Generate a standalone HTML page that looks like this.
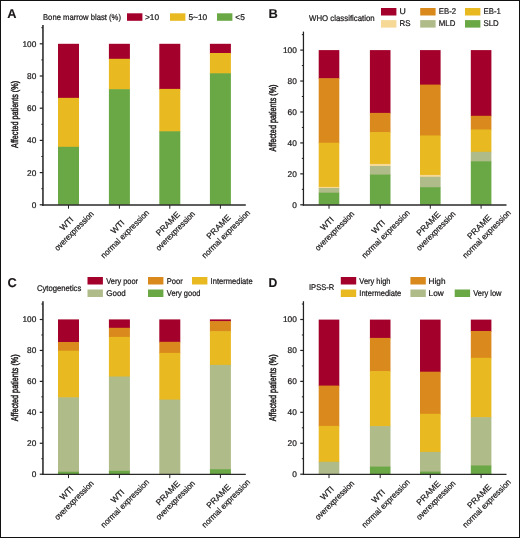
<!DOCTYPE html>
<html><head><meta charset="utf-8"><style>
html,body{margin:0;padding:0;background:#fff;}
body{width:520px;height:538px;overflow:hidden;}
svg{display:block;will-change:transform;font-family:"Liberation Sans", sans-serif;text-rendering:geometricPrecision;}
</style></head><body>
<svg width="520" height="538" viewBox="0 0 520 538">
<rect x="0" y="0" width="520" height="538" fill="#fff"/>
<g fill="#1a1718">
<rect x="58.00" y="43.80" width="21.00" height="54.65" fill="#a3002c"/>
<rect x="58.00" y="97.85" width="21.00" height="49.55" fill="#e8b921"/>
<rect x="58.00" y="146.80" width="21.00" height="58.00" fill="#6aa845"/>
<rect x="108.90" y="43.80" width="21.00" height="15.60" fill="#a3002c"/>
<rect x="108.90" y="58.80" width="21.00" height="31.00" fill="#e8b921"/>
<rect x="108.90" y="89.20" width="21.00" height="115.60" fill="#6aa845"/>
<rect x="159.30" y="43.80" width="21.00" height="45.70" fill="#a3002c"/>
<rect x="159.30" y="88.90" width="21.00" height="43.00" fill="#e8b921"/>
<rect x="159.30" y="131.30" width="21.00" height="73.50" fill="#6aa845"/>
<rect x="209.90" y="43.80" width="21.00" height="9.80" fill="#a3002c"/>
<rect x="209.90" y="53.00" width="21.00" height="20.90" fill="#e8b921"/>
<rect x="209.90" y="73.30" width="21.00" height="131.50" fill="#6aa845"/>
<line x1="42.95" y1="25.00" x2="42.95" y2="205.70" stroke="#3c3c3c" stroke-width="1.7"/>
<line x1="42.10" y1="205.00" x2="245.80" y2="205.00" stroke="#2a2a2a" stroke-width="1.4"/>
<line x1="39.75" y1="204.80" x2="42.95" y2="204.80" stroke="#222" stroke-width="1.2"/>
<text transform="translate(36.35,207.70)" font-size="8.3" text-anchor="end" font-weight="normal" stroke="#1a1718" stroke-width="0.22">0</text>
<line x1="41.35" y1="188.70" x2="42.95" y2="188.70" stroke="#222" stroke-width="1.0"/>
<line x1="39.75" y1="172.60" x2="42.95" y2="172.60" stroke="#222" stroke-width="1.2"/>
<text transform="translate(36.35,175.50)" font-size="8.3" text-anchor="end" font-weight="normal" stroke="#1a1718" stroke-width="0.22">20</text>
<line x1="41.35" y1="156.50" x2="42.95" y2="156.50" stroke="#222" stroke-width="1.0"/>
<line x1="39.75" y1="140.40" x2="42.95" y2="140.40" stroke="#222" stroke-width="1.2"/>
<text transform="translate(36.35,143.30)" font-size="8.3" text-anchor="end" font-weight="normal" stroke="#1a1718" stroke-width="0.22">40</text>
<line x1="41.35" y1="124.30" x2="42.95" y2="124.30" stroke="#222" stroke-width="1.0"/>
<line x1="39.75" y1="108.20" x2="42.95" y2="108.20" stroke="#222" stroke-width="1.2"/>
<text transform="translate(36.35,111.10)" font-size="8.3" text-anchor="end" font-weight="normal" stroke="#1a1718" stroke-width="0.22">60</text>
<line x1="41.35" y1="92.10" x2="42.95" y2="92.10" stroke="#222" stroke-width="1.0"/>
<line x1="39.75" y1="76.00" x2="42.95" y2="76.00" stroke="#222" stroke-width="1.2"/>
<text transform="translate(36.35,78.90)" font-size="8.3" text-anchor="end" font-weight="normal" stroke="#1a1718" stroke-width="0.22">80</text>
<line x1="41.35" y1="59.90" x2="42.95" y2="59.90" stroke="#222" stroke-width="1.0"/>
<line x1="39.75" y1="43.80" x2="42.95" y2="43.80" stroke="#222" stroke-width="1.2"/>
<text transform="translate(36.35,46.70)" font-size="8.3" text-anchor="end" font-weight="normal" stroke="#1a1718" stroke-width="0.22">100</text>
<line x1="41.35" y1="27.70" x2="42.95" y2="27.70" stroke="#222" stroke-width="1.0"/>
<line x1="68.50" y1="205.00" x2="68.50" y2="208.70" stroke="#222" stroke-width="1.0"/>
<line x1="119.40" y1="205.00" x2="119.40" y2="208.70" stroke="#222" stroke-width="1.0"/>
<line x1="169.80" y1="205.00" x2="169.80" y2="208.70" stroke="#222" stroke-width="1.0"/>
<line x1="220.40" y1="205.00" x2="220.40" y2="208.70" stroke="#222" stroke-width="1.0"/>
<rect x="318.70" y="50.10" width="20.60" height="28.70" fill="#a3002c"/>
<rect x="318.70" y="78.20" width="20.60" height="65.15" fill="#da8a1c"/>
<rect x="318.70" y="142.75" width="20.60" height="44.75" fill="#e8b921"/>
<rect x="318.70" y="186.90" width="20.60" height="1.70" fill="#f6d996"/>
<rect x="318.70" y="188.00" width="20.60" height="5.30" fill="#afbb89"/>
<rect x="318.70" y="192.70" width="20.60" height="12.10" fill="#6aa845"/>
<rect x="369.90" y="50.10" width="20.60" height="63.40" fill="#a3002c"/>
<rect x="369.90" y="112.90" width="20.60" height="19.80" fill="#da8a1c"/>
<rect x="369.90" y="132.10" width="20.60" height="32.40" fill="#e8b921"/>
<rect x="369.90" y="163.90" width="20.60" height="2.70" fill="#f6d996"/>
<rect x="369.90" y="166.00" width="20.60" height="9.20" fill="#afbb89"/>
<rect x="369.90" y="174.60" width="20.60" height="30.20" fill="#6aa845"/>
<rect x="420.00" y="50.10" width="20.60" height="35.10" fill="#a3002c"/>
<rect x="420.00" y="84.60" width="20.60" height="51.50" fill="#da8a1c"/>
<rect x="420.00" y="135.50" width="20.60" height="40.00" fill="#e8b921"/>
<rect x="420.00" y="174.90" width="20.60" height="2.50" fill="#f6d996"/>
<rect x="420.00" y="176.80" width="20.60" height="11.00" fill="#afbb89"/>
<rect x="420.00" y="187.20" width="20.60" height="17.60" fill="#6aa845"/>
<rect x="470.80" y="50.10" width="20.60" height="66.30" fill="#a3002c"/>
<rect x="470.80" y="115.80" width="20.60" height="14.30" fill="#da8a1c"/>
<rect x="470.80" y="129.50" width="20.60" height="22.90" fill="#e8b921"/>
<rect x="470.80" y="151.80" width="20.60" height="10.10" fill="#afbb89"/>
<rect x="470.80" y="161.30" width="20.60" height="43.50" fill="#6aa845"/>
<line x1="303.45" y1="31.60" x2="303.45" y2="205.70" stroke="#222" stroke-width="1.25"/>
<line x1="302.82" y1="205.00" x2="506.50" y2="205.00" stroke="#2a2a2a" stroke-width="1.4"/>
<line x1="300.25" y1="204.80" x2="303.45" y2="204.80" stroke="#222" stroke-width="1.2"/>
<text transform="translate(296.85,207.70)" font-size="8.3" text-anchor="end" font-weight="normal" stroke="#1a1718" stroke-width="0.22">0</text>
<line x1="301.85" y1="189.33" x2="303.45" y2="189.33" stroke="#222" stroke-width="1.0"/>
<line x1="300.25" y1="173.86" x2="303.45" y2="173.86" stroke="#222" stroke-width="1.2"/>
<text transform="translate(296.85,176.76)" font-size="8.3" text-anchor="end" font-weight="normal" stroke="#1a1718" stroke-width="0.22">20</text>
<line x1="301.85" y1="158.39" x2="303.45" y2="158.39" stroke="#222" stroke-width="1.0"/>
<line x1="300.25" y1="142.92" x2="303.45" y2="142.92" stroke="#222" stroke-width="1.2"/>
<text transform="translate(296.85,145.82)" font-size="8.3" text-anchor="end" font-weight="normal" stroke="#1a1718" stroke-width="0.22">40</text>
<line x1="301.85" y1="127.45" x2="303.45" y2="127.45" stroke="#222" stroke-width="1.0"/>
<line x1="300.25" y1="111.98" x2="303.45" y2="111.98" stroke="#222" stroke-width="1.2"/>
<text transform="translate(296.85,114.88)" font-size="8.3" text-anchor="end" font-weight="normal" stroke="#1a1718" stroke-width="0.22">60</text>
<line x1="301.85" y1="96.51" x2="303.45" y2="96.51" stroke="#222" stroke-width="1.0"/>
<line x1="300.25" y1="81.04" x2="303.45" y2="81.04" stroke="#222" stroke-width="1.2"/>
<text transform="translate(296.85,83.94)" font-size="8.3" text-anchor="end" font-weight="normal" stroke="#1a1718" stroke-width="0.22">80</text>
<line x1="301.85" y1="65.57" x2="303.45" y2="65.57" stroke="#222" stroke-width="1.0"/>
<line x1="300.25" y1="50.10" x2="303.45" y2="50.10" stroke="#222" stroke-width="1.2"/>
<text transform="translate(296.85,53.00)" font-size="8.3" text-anchor="end" font-weight="normal" stroke="#1a1718" stroke-width="0.22">100</text>
<line x1="301.85" y1="34.63" x2="303.45" y2="34.63" stroke="#222" stroke-width="1.0"/>
<line x1="329.00" y1="205.00" x2="329.00" y2="208.70" stroke="#222" stroke-width="1.0"/>
<line x1="380.20" y1="205.00" x2="380.20" y2="208.70" stroke="#222" stroke-width="1.0"/>
<line x1="430.30" y1="205.00" x2="430.30" y2="208.70" stroke="#222" stroke-width="1.0"/>
<line x1="481.10" y1="205.00" x2="481.10" y2="208.70" stroke="#222" stroke-width="1.0"/>
<rect x="58.00" y="319.40" width="21.00" height="23.20" fill="#a3002c"/>
<rect x="58.00" y="342.00" width="21.00" height="9.30" fill="#da8a1c"/>
<rect x="58.00" y="350.70" width="21.00" height="47.20" fill="#e8b921"/>
<rect x="58.00" y="397.30" width="21.00" height="75.00" fill="#afbb89"/>
<rect x="58.00" y="471.70" width="21.00" height="2.50" fill="#6aa845"/>
<rect x="108.90" y="319.40" width="21.00" height="9.00" fill="#a3002c"/>
<rect x="108.90" y="327.80" width="21.00" height="9.70" fill="#da8a1c"/>
<rect x="108.90" y="336.90" width="21.00" height="40.20" fill="#e8b921"/>
<rect x="108.90" y="376.50" width="21.00" height="94.90" fill="#afbb89"/>
<rect x="108.90" y="470.80" width="21.00" height="3.40" fill="#6aa845"/>
<rect x="159.30" y="319.40" width="21.00" height="23.00" fill="#a3002c"/>
<rect x="159.30" y="341.80" width="21.00" height="11.70" fill="#da8a1c"/>
<rect x="159.30" y="352.90" width="21.00" height="47.30" fill="#e8b921"/>
<rect x="159.30" y="399.60" width="21.00" height="74.60" fill="#afbb89"/>
<rect x="209.90" y="319.40" width="21.00" height="2.30" fill="#a3002c"/>
<rect x="209.90" y="321.10" width="21.00" height="10.70" fill="#da8a1c"/>
<rect x="209.90" y="331.20" width="21.00" height="34.30" fill="#e8b921"/>
<rect x="209.90" y="364.90" width="21.00" height="104.90" fill="#afbb89"/>
<rect x="209.90" y="469.20" width="21.00" height="5.00" fill="#6aa845"/>
<line x1="42.95" y1="301.20" x2="42.95" y2="475.05" stroke="#3c3c3c" stroke-width="1.7"/>
<line x1="42.10" y1="474.40" x2="245.80" y2="474.40" stroke="#2a2a2a" stroke-width="1.3"/>
<line x1="39.75" y1="474.20" x2="42.95" y2="474.20" stroke="#222" stroke-width="1.2"/>
<text transform="translate(36.35,477.10)" font-size="8.3" text-anchor="end" font-weight="normal" stroke="#1a1718" stroke-width="0.22">0</text>
<line x1="41.35" y1="458.73" x2="42.95" y2="458.73" stroke="#222" stroke-width="1.0"/>
<line x1="39.75" y1="443.26" x2="42.95" y2="443.26" stroke="#222" stroke-width="1.2"/>
<text transform="translate(36.35,446.16)" font-size="8.3" text-anchor="end" font-weight="normal" stroke="#1a1718" stroke-width="0.22">20</text>
<line x1="41.35" y1="427.79" x2="42.95" y2="427.79" stroke="#222" stroke-width="1.0"/>
<line x1="39.75" y1="412.32" x2="42.95" y2="412.32" stroke="#222" stroke-width="1.2"/>
<text transform="translate(36.35,415.22)" font-size="8.3" text-anchor="end" font-weight="normal" stroke="#1a1718" stroke-width="0.22">40</text>
<line x1="41.35" y1="396.85" x2="42.95" y2="396.85" stroke="#222" stroke-width="1.0"/>
<line x1="39.75" y1="381.38" x2="42.95" y2="381.38" stroke="#222" stroke-width="1.2"/>
<text transform="translate(36.35,384.28)" font-size="8.3" text-anchor="end" font-weight="normal" stroke="#1a1718" stroke-width="0.22">60</text>
<line x1="41.35" y1="365.91" x2="42.95" y2="365.91" stroke="#222" stroke-width="1.0"/>
<line x1="39.75" y1="350.44" x2="42.95" y2="350.44" stroke="#222" stroke-width="1.2"/>
<text transform="translate(36.35,353.34)" font-size="8.3" text-anchor="end" font-weight="normal" stroke="#1a1718" stroke-width="0.22">80</text>
<line x1="41.35" y1="334.97" x2="42.95" y2="334.97" stroke="#222" stroke-width="1.0"/>
<line x1="39.75" y1="319.50" x2="42.95" y2="319.50" stroke="#222" stroke-width="1.2"/>
<text transform="translate(36.35,322.40)" font-size="8.3" text-anchor="end" font-weight="normal" stroke="#1a1718" stroke-width="0.22">100</text>
<line x1="41.35" y1="304.03" x2="42.95" y2="304.03" stroke="#222" stroke-width="1.0"/>
<line x1="68.50" y1="474.40" x2="68.50" y2="478.10" stroke="#222" stroke-width="1.0"/>
<line x1="119.40" y1="474.40" x2="119.40" y2="478.10" stroke="#222" stroke-width="1.0"/>
<line x1="169.80" y1="474.40" x2="169.80" y2="478.10" stroke="#222" stroke-width="1.0"/>
<line x1="220.40" y1="474.40" x2="220.40" y2="478.10" stroke="#222" stroke-width="1.0"/>
<rect x="318.70" y="319.60" width="20.60" height="66.60" fill="#a3002c"/>
<rect x="318.70" y="385.60" width="20.60" height="40.90" fill="#da8a1c"/>
<rect x="318.70" y="425.90" width="20.60" height="36.50" fill="#e8b921"/>
<rect x="318.70" y="461.80" width="20.60" height="12.40" fill="#afbb89"/>
<rect x="369.90" y="319.60" width="20.60" height="18.90" fill="#a3002c"/>
<rect x="369.90" y="337.90" width="20.60" height="33.80" fill="#da8a1c"/>
<rect x="369.90" y="371.10" width="20.60" height="55.60" fill="#e8b921"/>
<rect x="369.90" y="426.10" width="20.60" height="41.10" fill="#afbb89"/>
<rect x="369.90" y="466.60" width="20.60" height="7.60" fill="#6aa845"/>
<rect x="420.00" y="319.60" width="20.60" height="52.70" fill="#a3002c"/>
<rect x="420.00" y="371.70" width="20.60" height="42.70" fill="#da8a1c"/>
<rect x="420.00" y="413.80" width="20.60" height="38.70" fill="#e8b921"/>
<rect x="420.00" y="451.90" width="20.60" height="20.30" fill="#afbb89"/>
<rect x="420.00" y="471.60" width="20.60" height="2.60" fill="#6aa845"/>
<rect x="470.80" y="319.60" width="20.60" height="12.00" fill="#a3002c"/>
<rect x="470.80" y="331.00" width="20.60" height="27.40" fill="#da8a1c"/>
<rect x="470.80" y="357.80" width="20.60" height="60.00" fill="#e8b921"/>
<rect x="470.80" y="417.20" width="20.60" height="48.90" fill="#afbb89"/>
<rect x="470.80" y="465.50" width="20.60" height="8.70" fill="#6aa845"/>
<line x1="303.45" y1="301.20" x2="303.45" y2="475.05" stroke="#222" stroke-width="1.25"/>
<line x1="302.82" y1="474.40" x2="506.50" y2="474.40" stroke="#2a2a2a" stroke-width="1.3"/>
<line x1="300.25" y1="474.20" x2="303.45" y2="474.20" stroke="#222" stroke-width="1.2"/>
<text transform="translate(296.85,477.10)" font-size="8.3" text-anchor="end" font-weight="normal" stroke="#1a1718" stroke-width="0.22">0</text>
<line x1="301.85" y1="458.73" x2="303.45" y2="458.73" stroke="#222" stroke-width="1.0"/>
<line x1="300.25" y1="443.26" x2="303.45" y2="443.26" stroke="#222" stroke-width="1.2"/>
<text transform="translate(296.85,446.16)" font-size="8.3" text-anchor="end" font-weight="normal" stroke="#1a1718" stroke-width="0.22">20</text>
<line x1="301.85" y1="427.79" x2="303.45" y2="427.79" stroke="#222" stroke-width="1.0"/>
<line x1="300.25" y1="412.32" x2="303.45" y2="412.32" stroke="#222" stroke-width="1.2"/>
<text transform="translate(296.85,415.22)" font-size="8.3" text-anchor="end" font-weight="normal" stroke="#1a1718" stroke-width="0.22">40</text>
<line x1="301.85" y1="396.85" x2="303.45" y2="396.85" stroke="#222" stroke-width="1.0"/>
<line x1="300.25" y1="381.38" x2="303.45" y2="381.38" stroke="#222" stroke-width="1.2"/>
<text transform="translate(296.85,384.28)" font-size="8.3" text-anchor="end" font-weight="normal" stroke="#1a1718" stroke-width="0.22">60</text>
<line x1="301.85" y1="365.91" x2="303.45" y2="365.91" stroke="#222" stroke-width="1.0"/>
<line x1="300.25" y1="350.44" x2="303.45" y2="350.44" stroke="#222" stroke-width="1.2"/>
<text transform="translate(296.85,353.34)" font-size="8.3" text-anchor="end" font-weight="normal" stroke="#1a1718" stroke-width="0.22">80</text>
<line x1="301.85" y1="334.97" x2="303.45" y2="334.97" stroke="#222" stroke-width="1.0"/>
<line x1="300.25" y1="319.50" x2="303.45" y2="319.50" stroke="#222" stroke-width="1.2"/>
<text transform="translate(296.85,322.40)" font-size="8.3" text-anchor="end" font-weight="normal" stroke="#1a1718" stroke-width="0.22">100</text>
<line x1="301.85" y1="304.03" x2="303.45" y2="304.03" stroke="#222" stroke-width="1.0"/>
<line x1="329.00" y1="474.40" x2="329.00" y2="478.10" stroke="#222" stroke-width="1.0"/>
<line x1="380.20" y1="474.40" x2="380.20" y2="478.10" stroke="#222" stroke-width="1.0"/>
<line x1="430.30" y1="474.40" x2="430.30" y2="478.10" stroke="#222" stroke-width="1.0"/>
<line x1="481.10" y1="474.40" x2="481.10" y2="478.10" stroke="#222" stroke-width="1.0"/>
<text transform="translate(7.20,17.80)" font-size="12.8" text-anchor="start" font-weight="bold" stroke="#1a1718" stroke-width="0.1">A</text>
<text transform="translate(268.50,17.80) scale(1.0073,1.0000)" font-size="12.8" text-anchor="start" font-weight="bold" stroke="#1a1718" stroke-width="0.1">B</text>
<text transform="translate(7.40,287.30)" font-size="12.8" text-anchor="start" font-weight="bold" stroke="#1a1718" stroke-width="0.1">C</text>
<text transform="translate(268.50,287.10) scale(0.9671,1.0000)" font-size="12.6" text-anchor="start" font-weight="bold" stroke="#1a1718" stroke-width="0.1">D</text>
<text transform="translate(17.50,114.40) rotate(-90) scale(0.7380,1.0000)" font-size="9.8" text-anchor="middle" font-weight="normal" stroke="#1a1718" stroke-width="0.45">Affected patients (%)</text>
<text transform="translate(275.80,118.00) rotate(-90) scale(0.7380,1.0000)" font-size="9.8" text-anchor="middle" font-weight="normal" stroke="#1a1718" stroke-width="0.45">Affected patients (%)</text>
<text transform="translate(17.50,387.80) rotate(-90) scale(0.7380,1.0000)" font-size="9.8" text-anchor="middle" font-weight="normal" stroke="#1a1718" stroke-width="0.45">Affected patients (%)</text>
<text transform="translate(275.80,387.80) rotate(-90) scale(0.7380,1.0000)" font-size="9.8" text-anchor="middle" font-weight="normal" stroke="#1a1718" stroke-width="0.45">Affected patients (%)</text>
<text transform="translate(43.00,19.50) scale(0.9241,1.0000)" font-size="8.3" text-anchor="start" font-weight="normal" stroke="#1a1718" stroke-width="0.22">Bone marrow blast (%)</text>
<rect x="127.00" y="13.30" width="15.40" height="7.50" fill="#a3002c"/>
<text transform="translate(145.00,19.50)" font-size="8.3" text-anchor="start" font-weight="normal" stroke="#1a1718" stroke-width="0.22">&gt;10</text>
<rect x="170.00" y="13.30" width="15.40" height="7.50" fill="#e8b921"/>
<text transform="translate(188.50,19.50)" font-size="8.3" text-anchor="start" font-weight="normal" stroke="#1a1718" stroke-width="0.22">5~10</text>
<rect x="217.00" y="13.30" width="15.40" height="7.50" fill="#6aa845"/>
<text transform="translate(235.30,19.50)" font-size="8.3" text-anchor="start" font-weight="normal" stroke="#1a1718" stroke-width="0.22">&lt;5</text>
<text transform="translate(309.10,20.80) scale(0.9420,1.0000)" font-size="8.3" text-anchor="start" font-weight="normal" stroke="#1a1718" stroke-width="0.22">WHO classification</text>
<rect x="381.00" y="8.00" width="15.40" height="7.50" fill="#a3002c"/>
<text transform="translate(399.50,14.30) scale(1.0510,1.0000)" font-size="8.3" text-anchor="start" font-weight="normal" stroke="#1a1718" stroke-width="0.22">U</text>
<rect x="420.20" y="8.00" width="15.40" height="7.50" fill="#da8a1c"/>
<text transform="translate(438.80,14.30) scale(0.9376,1.0000)" font-size="8.3" text-anchor="start" font-weight="normal" stroke="#1a1718" stroke-width="0.22">EB-2</text>
<rect x="465.00" y="8.00" width="15.40" height="7.50" fill="#e8b921"/>
<text transform="translate(483.50,14.30) scale(0.9376,1.0000)" font-size="8.3" text-anchor="start" font-weight="normal" stroke="#1a1718" stroke-width="0.22">EB-1</text>
<rect x="381.00" y="20.10" width="15.40" height="7.50" fill="#f6d996"/>
<text transform="translate(399.50,26.30) scale(0.9540,1.0000)" font-size="8.3" text-anchor="start" font-weight="normal" stroke="#1a1718" stroke-width="0.22">RS</text>
<rect x="420.20" y="20.10" width="15.40" height="7.50" fill="#afbb89"/>
<text transform="translate(438.80,26.30) scale(0.9473,1.0000)" font-size="8.3" text-anchor="start" font-weight="normal" stroke="#1a1718" stroke-width="0.22">MLD</text>
<rect x="465.00" y="20.10" width="15.40" height="7.50" fill="#6aa845"/>
<text transform="translate(483.50,26.30) scale(0.9476,1.0000)" font-size="8.3" text-anchor="start" font-weight="normal" stroke="#1a1718" stroke-width="0.22">SLD</text>
<text transform="translate(36.90,290.50) scale(0.9254,1.0000)" font-size="8.3" text-anchor="start" font-weight="normal" stroke="#1a1718" stroke-width="0.22">Cytogenetics</text>
<rect x="87.50" y="277.00" width="15.40" height="7.50" fill="#a3002c"/>
<text transform="translate(106.30,283.80) scale(0.8951,1.0000)" font-size="8.3" text-anchor="start" font-weight="normal" stroke="#1a1718" stroke-width="0.22">Very poor</text>
<rect x="148.00" y="277.00" width="15.40" height="7.50" fill="#da8a1c"/>
<text transform="translate(166.80,283.80) scale(0.9126,1.0000)" font-size="8.3" text-anchor="start" font-weight="normal" stroke="#1a1718" stroke-width="0.22">Poor</text>
<rect x="192.00" y="277.00" width="15.40" height="7.50" fill="#e8b921"/>
<text transform="translate(210.60,283.80) scale(0.9103,1.0000)" font-size="8.3" text-anchor="start" font-weight="normal" stroke="#1a1718" stroke-width="0.22">Intermediate</text>
<rect x="87.50" y="289.50" width="15.40" height="7.50" fill="#afbb89"/>
<text transform="translate(106.30,296.00) scale(0.9604,1.0000)" font-size="8.3" text-anchor="start" font-weight="normal" stroke="#1a1718" stroke-width="0.22">Good</text>
<rect x="148.00" y="289.50" width="15.40" height="7.50" fill="#6aa845"/>
<text transform="translate(166.80,296.00) scale(0.9016,1.0000)" font-size="8.3" text-anchor="start" font-weight="normal" stroke="#1a1718" stroke-width="0.22">Very good</text>
<text transform="translate(309.00,290.10) scale(0.9143,1.0000)" font-size="8.3" text-anchor="start" font-weight="normal" stroke="#1a1718" stroke-width="0.22">IPSS-R</text>
<rect x="340.80" y="277.00" width="15.40" height="7.50" fill="#a3002c"/>
<text transform="translate(359.30,283.80) scale(0.9016,1.0000)" font-size="8.3" text-anchor="start" font-weight="normal" stroke="#1a1718" stroke-width="0.22">Very high</text>
<rect x="410.40" y="277.00" width="15.40" height="7.50" fill="#da8a1c"/>
<text transform="translate(428.60,283.80) scale(0.9900,1.0000)" font-size="8.3" text-anchor="start" font-weight="normal" stroke="#1a1718" stroke-width="0.22">High</text>
<rect x="340.80" y="289.50" width="15.40" height="7.50" fill="#e8b921"/>
<text transform="translate(359.30,296.00) scale(0.9103,1.0000)" font-size="8.3" text-anchor="start" font-weight="normal" stroke="#1a1718" stroke-width="0.22">Intermediate</text>
<rect x="410.40" y="289.50" width="15.40" height="7.50" fill="#afbb89"/>
<text transform="translate(428.60,296.00) scale(0.9917,1.0000)" font-size="8.3" text-anchor="start" font-weight="normal" stroke="#1a1718" stroke-width="0.22">Low</text>
<rect x="454.70" y="289.50" width="15.40" height="7.50" fill="#6aa845"/>
<text transform="translate(473.20,296.00) scale(0.9022,1.0000)" font-size="8.3" text-anchor="start" font-weight="normal" stroke="#1a1718" stroke-width="0.22">Very low</text>
<text transform="translate(68.61,225.61) rotate(-45)" font-size="8.3" text-anchor="middle" font-weight="normal" stroke="#1a1718" stroke-width="0.22">WTI</text>
<text transform="translate(75.99,232.89) rotate(-45) scale(0.9200,1.0000)" font-size="8.3" text-anchor="middle" font-weight="normal" stroke="#1a1718" stroke-width="0.22">overexpression</text>
<text transform="translate(119.51,228.77) rotate(-45)" font-size="8.3" text-anchor="middle" font-weight="normal" stroke="#1a1718" stroke-width="0.22">WTI</text>
<text transform="translate(126.89,236.05) rotate(-45) scale(0.9500,1.0000)" font-size="8.3" text-anchor="middle" font-weight="normal" stroke="#1a1718" stroke-width="0.22">normal expression</text>
<text transform="translate(169.91,225.61) rotate(-45) scale(1.0200,1.0000)" font-size="8.3" text-anchor="middle" font-weight="normal" stroke="#1a1718" stroke-width="0.22">PRAME</text>
<text transform="translate(177.29,232.89) rotate(-45) scale(0.9200,1.0000)" font-size="8.3" text-anchor="middle" font-weight="normal" stroke="#1a1718" stroke-width="0.22">overexpression</text>
<text transform="translate(220.51,228.77) rotate(-45) scale(1.0200,1.0000)" font-size="8.3" text-anchor="middle" font-weight="normal" stroke="#1a1718" stroke-width="0.22">PRAME</text>
<text transform="translate(227.89,236.05) rotate(-45) scale(0.9500,1.0000)" font-size="8.3" text-anchor="middle" font-weight="normal" stroke="#1a1718" stroke-width="0.22">normal expression</text>
<text transform="translate(329.11,225.61) rotate(-45)" font-size="8.3" text-anchor="middle" font-weight="normal" stroke="#1a1718" stroke-width="0.22">WTI</text>
<text transform="translate(336.49,232.89) rotate(-45) scale(0.9200,1.0000)" font-size="8.3" text-anchor="middle" font-weight="normal" stroke="#1a1718" stroke-width="0.22">overexpression</text>
<text transform="translate(380.31,228.77) rotate(-45)" font-size="8.3" text-anchor="middle" font-weight="normal" stroke="#1a1718" stroke-width="0.22">WTI</text>
<text transform="translate(387.69,236.05) rotate(-45) scale(0.9500,1.0000)" font-size="8.3" text-anchor="middle" font-weight="normal" stroke="#1a1718" stroke-width="0.22">normal expression</text>
<text transform="translate(430.41,225.61) rotate(-45) scale(1.0200,1.0000)" font-size="8.3" text-anchor="middle" font-weight="normal" stroke="#1a1718" stroke-width="0.22">PRAME</text>
<text transform="translate(437.79,232.89) rotate(-45) scale(0.9200,1.0000)" font-size="8.3" text-anchor="middle" font-weight="normal" stroke="#1a1718" stroke-width="0.22">overexpression</text>
<text transform="translate(481.21,228.77) rotate(-45) scale(1.0200,1.0000)" font-size="8.3" text-anchor="middle" font-weight="normal" stroke="#1a1718" stroke-width="0.22">PRAME</text>
<text transform="translate(488.59,236.05) rotate(-45) scale(0.9500,1.0000)" font-size="8.3" text-anchor="middle" font-weight="normal" stroke="#1a1718" stroke-width="0.22">normal expression</text>
<text transform="translate(68.61,495.01) rotate(-45)" font-size="8.3" text-anchor="middle" font-weight="normal" stroke="#1a1718" stroke-width="0.22">WTI</text>
<text transform="translate(75.99,502.29) rotate(-45) scale(0.9200,1.0000)" font-size="8.3" text-anchor="middle" font-weight="normal" stroke="#1a1718" stroke-width="0.22">overexpression</text>
<text transform="translate(119.51,498.17) rotate(-45)" font-size="8.3" text-anchor="middle" font-weight="normal" stroke="#1a1718" stroke-width="0.22">WTI</text>
<text transform="translate(126.89,505.45) rotate(-45) scale(0.9500,1.0000)" font-size="8.3" text-anchor="middle" font-weight="normal" stroke="#1a1718" stroke-width="0.22">normal expression</text>
<text transform="translate(169.91,495.01) rotate(-45) scale(1.0200,1.0000)" font-size="8.3" text-anchor="middle" font-weight="normal" stroke="#1a1718" stroke-width="0.22">PRAME</text>
<text transform="translate(177.29,502.29) rotate(-45) scale(0.9200,1.0000)" font-size="8.3" text-anchor="middle" font-weight="normal" stroke="#1a1718" stroke-width="0.22">overexpression</text>
<text transform="translate(220.51,498.17) rotate(-45) scale(1.0200,1.0000)" font-size="8.3" text-anchor="middle" font-weight="normal" stroke="#1a1718" stroke-width="0.22">PRAME</text>
<text transform="translate(227.89,505.45) rotate(-45) scale(0.9500,1.0000)" font-size="8.3" text-anchor="middle" font-weight="normal" stroke="#1a1718" stroke-width="0.22">normal expression</text>
<text transform="translate(329.11,495.01) rotate(-45)" font-size="8.3" text-anchor="middle" font-weight="normal" stroke="#1a1718" stroke-width="0.22">WTI</text>
<text transform="translate(336.49,502.29) rotate(-45) scale(0.9200,1.0000)" font-size="8.3" text-anchor="middle" font-weight="normal" stroke="#1a1718" stroke-width="0.22">overexpression</text>
<text transform="translate(380.31,498.17) rotate(-45)" font-size="8.3" text-anchor="middle" font-weight="normal" stroke="#1a1718" stroke-width="0.22">WTI</text>
<text transform="translate(387.69,505.45) rotate(-45) scale(0.9500,1.0000)" font-size="8.3" text-anchor="middle" font-weight="normal" stroke="#1a1718" stroke-width="0.22">normal expression</text>
<text transform="translate(430.41,495.01) rotate(-45) scale(1.0200,1.0000)" font-size="8.3" text-anchor="middle" font-weight="normal" stroke="#1a1718" stroke-width="0.22">PRAME</text>
<text transform="translate(437.79,502.29) rotate(-45) scale(0.9200,1.0000)" font-size="8.3" text-anchor="middle" font-weight="normal" stroke="#1a1718" stroke-width="0.22">overexpression</text>
<text transform="translate(481.21,498.17) rotate(-45) scale(1.0200,1.0000)" font-size="8.3" text-anchor="middle" font-weight="normal" stroke="#1a1718" stroke-width="0.22">PRAME</text>
<text transform="translate(488.59,505.45) rotate(-45) scale(0.9500,1.0000)" font-size="8.3" text-anchor="middle" font-weight="normal" stroke="#1a1718" stroke-width="0.22">normal expression</text>
</g>
<rect x="0.5" y="0.5" width="519" height="537" fill="none" stroke="#111" stroke-width="1"/>
</svg>
</body></html>
